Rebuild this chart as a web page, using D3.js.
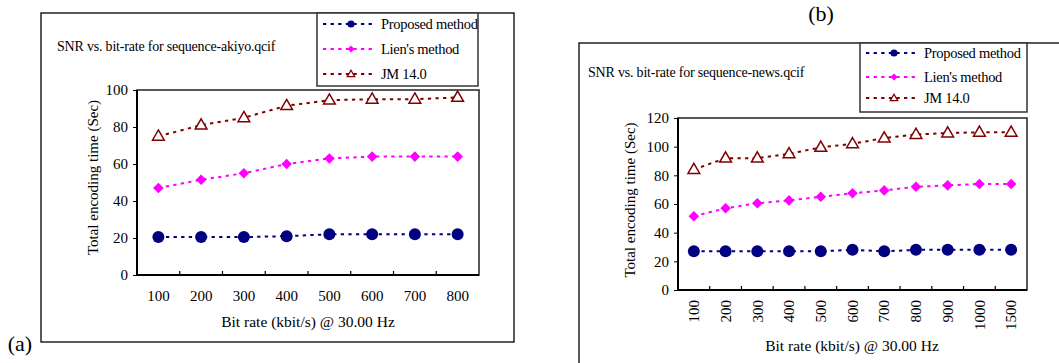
<!DOCTYPE html>
<html>
<head>
<meta charset="utf-8">
<script src="https://cdn.jsdelivr.net/npm/d3@7"></script>
<style>
  body { margin: 0; background: #fff; }
  svg { display: block; font-family: "Liberation Serif", "Times New Roman", serif; }
</style>
</head>
<body>
<svg id="chart" width="1059" height="363"></svg>
<script>
// --- data ---
const seriesNames = ["Proposed method", "Lien's method", "JM 14.0"];

const akiyoRates = ["100", "200", "300", "400", "500", "600", "700", "800"];
const akiyoProposed = [20.5, 20.5, 20.5, 21, 22, 22, 22, 22];
const akiyoLien = [47, 51.5, 55, 60, 63, 64, 64, 64];
const akiyoJM = [75, 81, 85, 91.5, 94.5, 95, 95, 96];
const akiyoTicks = [0, 20, 40, 60, 80, 100];

const newsRates = ["100", "200", "300", "400", "500", "600", "700", "800", "900", "1000", "1500"];
const newsProposed = [27, 27, 27, 27, 27, 28, 27, 28, 28, 28, 28];
const newsLien = [51.5, 57, 60.5, 62.5, 65, 67.5, 69.5, 72, 73, 74, 74];
const newsJM = [84, 92, 92, 95, 99.5, 102, 106, 108.5, 109.5, 110, 110];
const newsTicks = [0, 20, 40, 60, 80, 100, 120];

const colors = ["#000080", "#ff00ff", "#800000"];
const dash = "3.3,4.3";

const svg = d3.select("#chart");

function drawMarker(g, i, x, y, big) {
  if (i === 0) {
    g.append("circle").attr("cx", x).attr("cy", y).attr("r", big ? 6 : 3.6)
      .attr("fill", colors[0]);
  } else if (i === 1) {
    g.append("path")
      .attr("d", d3.symbol(d3.symbolSquare, big ? 56 : 25)())
      .attr("transform", `translate(${x},${y}) rotate(45)`)
      .attr("fill", colors[1]);
  } else {
    g.append("path")
      .attr("d", d3.symbol(d3.symbolTriangle, big ? 60 : 24)())
      .attr("transform", `translate(${x},${y + 0.5})`)
      .attr("fill", "#fff").attr("stroke", colors[2]).attr("stroke-width", big ? 1.5 : 1.3);
  }
}

function drawPanel(p) {
  const g = svg.append("g");

  // outer frame
  g.append("rect").attr("x", p.box[0]).attr("y", p.box[1])
    .attr("width", p.box[2]).attr("height", p.box[3])
    .attr("fill", "none").attr("stroke", "#000").attr("stroke-width", 1.3);

  g.append("text").attr("x", p.titleX).attr("y", p.titleY)
    .attr("font-size", 14).attr("letter-spacing", -0.2).text(p.title);

  const x = d3.scaleBand().domain(p.cats).range([p.plot[0], p.plot[1]]);
  const y = d3.scaleLinear().domain([0, d3.max(p.ticks)]).range([p.plot[3], p.plot[2]]);
  const cx = c => x(c) + x.bandwidth() / 2;

  // y axis
  const ya = g.append("g").attr("transform", `translate(${p.plot[0]},0)`)
    .call(d3.axisLeft(y).tickValues(p.ticks).tickSize(4).tickPadding(5));
  ya.attr("font-family", null);
  ya.select(".domain").remove();
  ya.selectAll("text").attr("font-size", 15).attr("fill", "#000");

  // x axis labels
  const xa = g.append("g").attr("transform", `translate(0,${p.plot[3]})`)
    .call(d3.axisBottom(x).tickSize(0).tickPadding(15));
  xa.attr("font-family", null);
  xa.select(".domain").remove();
  xa.selectAll("text").attr("font-size", 15).attr("fill", "#000");
  if (p.rotate) {
    xa.selectAll("text")
      .attr("transform", "rotate(-90)")
      .attr("x", -10).attr("y", 0).attr("dy", "0.35em")
      .attr("text-anchor", "end");
  }

  // boundary ticks between categories (pointing inwards)
  g.append("g").selectAll("line")
    .data(p.cats.slice(1))
    .join("line")
    .attr("x1", d => x(d)).attr("x2", d => x(d))
    .attr("y1", p.plot[3]).attr("y2", p.plot[3] - 4)
    .attr("stroke", "#000").attr("stroke-width", 1.2);

  // plot frame
  g.append("rect").attr("x", p.plot[0]).attr("y", p.plot[2])
    .attr("width", p.plot[1] - p.plot[0]).attr("height", p.plot[3] - p.plot[2])
    .attr("fill", "none").attr("stroke", "#222").attr("stroke-width", 1.5);
  g.append("path")
    .attr("d", `M${p.plot[0]},${p.plot[2]}V${p.plot[3]}H${p.plot[1]}`)
    .attr("fill", "none").attr("stroke", "#000").attr("stroke-width", 2);

  // axis titles
  g.append("text")
    .attr("transform", `translate(${p.yTitleX},${(p.plot[2] + p.plot[3]) / 2 + p.yTitleShift}) rotate(-90)`)
    .attr("text-anchor", "middle").attr("font-size", 15).text("Total encoding time (Sec)");
  g.append("text")
    .attr("x", p.xTitleX).attr("y", p.xTitleY)
    .attr("text-anchor", "middle").attr("font-size", 15.5).text("Bit rate (kbit/s) @ 30.00 Hz");

  // series
  const line = d3.line().x(d => cx(d.c)).y(d => y(d.v));
  p.series.forEach((vals, i) => {
    const pts = p.cats.map((c, j) => ({ c, v: vals[j] }));
    g.append("path").datum(pts).attr("d", line)
      .attr("fill", "none").attr("stroke", colors[i])
      .attr("stroke-width", 2).attr("stroke-dasharray", dash);
    const mg = g.append("g");
    pts.forEach(d => drawMarker(mg, i, cx(d.c), y(d.v), true));
  });

  // legend
  const lg = g.append("g");
  lg.append("rect").attr("x", p.leg[0]).attr("y", p.leg[1])
    .attr("width", p.leg[2]).attr("height", p.leg[3])
    .attr("fill", "#fff").attr("stroke", "#333").attr("stroke-width", 1.5);
  seriesNames.forEach((name, i) => {
    const ly = p.legY[i];
    const lx = p.leg[0] + 6;
    lg.append("line").attr("x1", lx).attr("x2", lx + 50).attr("y1", ly).attr("y2", ly)
      .attr("stroke", colors[i]).attr("stroke-width", 2).attr("stroke-dasharray", dash);
    drawMarker(lg, i, lx + 28, ly, false);
    lg.append("text").attr("x", lx + 58).attr("y", ly + 5)
      .attr("font-size", 14.5).attr("letter-spacing", -0.3).text(name);
  });

  // panel letter
  g.append("text").attr("x", p.letter[0]).attr("y", p.letter[1])
    .attr("font-size", 22).attr("text-anchor", "middle").text(p.letter[2]);
}

drawPanel({
  box: [41, 13, 473, 329],
  title: "SNR vs. bit-rate for sequence-akiyo.qcif", titleX: 57, titleY: 51,
  cats: akiyoRates, ticks: akiyoTicks,
  series: [akiyoProposed, akiyoLien, akiyoJM],
  plot: [137, 479, 90, 275],
  yTitleX: 98, yTitleShift: -5,
  xTitleX: 308, xTitleY: 327,
  rotate: false,
  leg: [317, 13, 161, 73], legY: [24, 49, 74],
  letter: [20, 351, "(a)"]
});

drawPanel({
  box: [579, 43, 500, 340],
  title: "SNR vs. bit-rate for sequence-news.qcif", titleX: 588, titleY: 77,
  cats: newsRates, ticks: newsTicks,
  series: [newsProposed, newsLien, newsJM],
  plot: [678, 1027, 118, 290],
  yTitleX: 635, yTitleShift: -4,
  xTitleX: 852, xTitleY: 351,
  rotate: true,
  leg: [860, 43, 167, 69], legY: [53, 77, 98],
  letter: [821, 21, "(b)"]
});
</script>
</body>
</html>
